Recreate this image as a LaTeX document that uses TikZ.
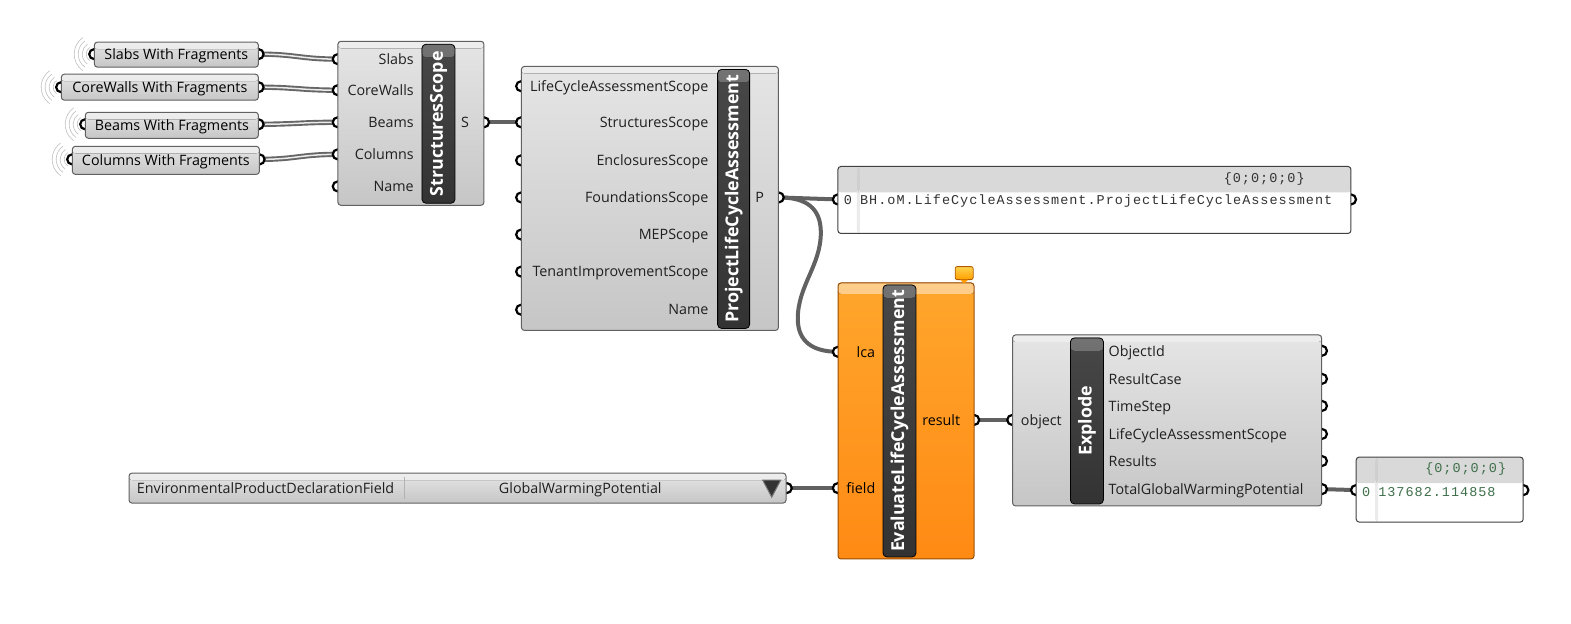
\documentclass[tikz,border=0pt]{standalone}
\usepackage{fontspec}
\setmainfont{Open Sans}
\newfontfamily\panelfont[LetterSpace=7.4]{Liberation Mono}
\usepackage{tikz}

\definecolor{compTop}{HTML}{E5E5E5}
\definecolor{compBot}{HTML}{C6C6C6}
\definecolor{orangeTop}{HTML}{FFA62C}
\definecolor{orangeBot}{HTML}{FF8A14}
\definecolor{valGreen}{HTML}{3F6F4A}

\tikzset{
  comp/.style={draw=black!62,line width=1pt,rounded corners=3pt,inner sep=0pt,
    top color=compTop,bottom color=compBot,
    path picture={\fill[top color=black!7,bottom color=compTop,draw=none]
      (path picture bounding box.north west) rectangle ([yshift=-7pt]path picture bounding box.north east);}},
  param/.style={comp,font=\fontsize{14.3}{14.3}\selectfont,text height=13pt,text depth=2.4pt},
  orangecomp/.style={draw=orange!60!black,line width=1pt,rounded corners=3pt,inner sep=0pt,
    top color=orangeTop,bottom color=orangeBot,
    path picture={\fill[top color=orangeTop!55!white,bottom color=orangeTop,draw=none]
      (path picture bounding box.north west) rectangle ([yshift=-11pt]path picture bounding box.north east);}},
  strip/.style={draw=black,line width=0.8pt,rounded corners=4pt,inner sep=0pt,
    top color=black!72,bottom color=black!80,text=white,
    font=\bfseries\fontsize{17.8}{17.8}\selectfont,
    path picture={\fill[top color=black!55,bottom color=black!72,draw=none]
      (path picture bounding box.north west) rectangle ([yshift=-13pt]path picture bounding box.north east);}},
  panel/.style={draw=black!75,line width=1pt,rounded corners=3pt,inner sep=0pt,fill=white,
    path picture={\fill[black!15] (path picture bounding box.north west) rectangle ([yshift=-26pt]path picture bounding box.north east);
      \fill[black!8] ([xshift=19pt]path picture bounding box.north west) rectangle ([xshift=22pt]path picture bounding box.south west);
      \fill[black!19] ([xshift=19pt]path picture bounding box.north west) rectangle ([xshift=22pt,yshift=-26pt]path picture bounding box.north west);}},
  grip/.style={circle,draw=black,line width=2.2pt,fill=white,minimum size=10pt,inner sep=0pt},
  wire/.style={draw=black!62,line width=4pt},
  dblwire/.style={draw=black!60,line width=1.9pt,double=black!8,double distance=1.5pt},
  lbl/.style={inner sep=0pt,font=\fontsize{14.3}{14.3}\selectfont,text=black!88,text height=13pt,text depth=2.4pt},
  mono/.style={inner sep=0pt,font=\panelfont\fontsize{13.5}{13.5}\selectfont,text=black!80,text height=9pt,text depth=0.4pt},
  ripple/.style={draw=black!25,line width=0.6pt}
}

\begin{document}
\begin{tikzpicture}[x=1.0022pt,y=-1.0022pt]
\useasboundingbox (0,0) rectangle (1567.5,622.6);

% grips
\coordinate (slabsOut) at (258,54);
\coordinate (coreOut) at (258,87);
\coordinate (beamsOut) at (258,124);
\coordinate (colsOut) at (259,159);
\coordinate (slabsIn) at (337,59);
\coordinate (coreIn) at (337,90);
\coordinate (beamsIn) at (337,122);
\coordinate (colsIn) at (337,154);
\coordinate (nameIn) at (337,186);
\coordinate (scopeOut) at (483,122);
\coordinate (lcaIn) at (520,86);
\coordinate (structIn) at (520,122);
\coordinate (enclIn) at (520,160);
\coordinate (foundIn) at (520,197);
\coordinate (mepIn) at (520,234);
\coordinate (tenantIn) at (520,271);
\coordinate (plcaNameIn) at (520,309);
\coordinate (plcaOut) at (777,197);
\coordinate (panelIn) at (836,199);
\coordinate (panelOut) at (1348,199);
\coordinate (evalLca) at (836,351);
\coordinate (evalField) at (836,487);
\coordinate (evalOut) at (972,419);
\coordinate (listOut) at (785,487);
\coordinate (explodeIn) at (1010,419);
\coordinate (idOut) at (1319,350);
\coordinate (caseOut) at (1319,378);
\coordinate (timeOut) at (1319,405);
\coordinate (scopeOutB) at (1319,433);
\coordinate (resOut) at (1319,460);
\coordinate (gwpOut) at (1319,488);
\coordinate (valIn) at (1353,489);
\coordinate (valOut) at (1520,489);

% ripples on the params
\foreach \cx/\cy in {94/54,61/87,85/124,72/159}
  \foreach \r in {8,12,16,20}
    \draw[ripple] (\cx,\cy) ++(125:\r) arc (125:235:\r);

% wires
\draw[dblwire] (slabsOut) .. controls (295,54) and (300,59) .. (slabsIn);
\draw[dblwire] (coreOut) .. controls (295,87) and (300,90) .. (coreIn);
\draw[dblwire] (beamsOut) .. controls (295,124) and (300,122) .. (beamsIn);
\draw[dblwire] (colsOut) .. controls (295,159) and (300,154) .. (colsIn);
\draw[wire] (scopeOut) -- (structIn);
\draw[wire] (plcaOut) -- (panelIn);
\draw[wire] (plcaOut) .. controls (805,197) and (819,208) .. (819,232)
  .. controls (819,265) and (796,285) .. (796,318)
  .. controls (796,340) and (810,351) .. (evalLca);
\draw[wire] (listOut) -- (evalField);
\draw[wire] (evalOut) -- (explodeIn);
\draw[wire] (gwpOut) -- (valIn);

\foreach \p in {slabsOut,coreOut,beamsOut,colsOut,slabsIn,coreIn,beamsIn,colsIn,nameIn,scopeOut,
  lcaIn,structIn,enclIn,foundIn,mepIn,tenantIn,plcaNameIn,plcaOut,panelIn,panelOut,evalLca,evalField,
  evalOut,listOut,explodeIn,idOut,caseOut,timeOut,scopeOutB,resOut,gwpOut,valIn,valOut}
  \node[grip] at (\p) {};
\foreach \cx/\cy in {94/54,61/87,85/124,72/159}
  \node[grip] at (\cx,\cy) {};

% params
\node[param,minimum width=164pt,minimum height=25pt] (slabs) at (176,54.5) {Slabs With Fragments};
\node[param,minimum width=197pt,minimum height=26pt] (core) at (159.5,87) {CoreWalls With Fragments};
\node[param,minimum width=173pt,minimum height=26pt] (beams) at (171.5,125) {Beams With Fragments};
\node[param,minimum width=187pt,minimum height=28pt] (cols) at (165.5,160) {Columns With Fragments};

% StructuresScope
\node[comp,minimum width=146pt,minimum height=164pt] (scope) at (410,123) {};
\node[strip,minimum width=33pt,minimum height=159pt] (scopeStrip) at (437.5,123.5) {\rotatebox{90}{StructuresScope}};
\foreach \t/\y in {Slabs/59,CoreWalls/90,Beams/122,Columns/154,Name/186}
  \node[lbl,anchor=east] (scope\t) at (413,\y) {\t};
\node[lbl] (scopeS) at (464,122) {S};

% ProjectLifeCycleAssessment
\node[comp,minimum width=257pt,minimum height=264pt] (plca) at (648.5,198) {};
\node[strip,minimum width=32pt,minimum height=259pt] (plcaStrip) at (732,198.5) {\rotatebox{90}{ProjectLifeCycleAssessment}};
\foreach \t/\y in {LifeCycleAssessmentScope/86,StructuresScope/122,EnclosuresScope/160,FoundationsScope/197,
  MEPScope/234,TenantImprovementScope/271,Name/309}
  \node[lbl,anchor=east] (plca\t) at (707,\y) {\t};
\node[lbl] (plcaP) at (758,197) {P};

% panel
\node[panel,minimum width=513pt,minimum height=67pt] (panel) at (1092,199.5) {};
\node[mono,anchor=east] (panelPath) at (1302,177.5) {\{0;0;0;0\}};
\node[mono] (panelIdx) at (846,200) {0};
\node[mono,anchor=west] (panelTxt) at (858,200) {BH.oM.LifeCycleAssessment.ProjectLifeCycleAssessment};

% EvaluateLifeCycleAssessment
\node[orangecomp,minimum width=136pt,minimum height=276pt] (eval) at (904,420) {};
\node[strip,minimum width=33pt,minimum height=272pt] (evalStrip) at (897.5,420) {\rotatebox{90}{EvaluateLifeCycleAssessment}};
\node[lbl,text=black] (evalLcaLbl) at (864,351) {lca};
\node[lbl,text=black] (evalFieldLbl) at (859,487) {field};
\node[lbl,text=black,anchor=west] (evalRes) at (920,419) {result};
% comment bubble
\node[draw=orange!70!black,line width=0.8pt,rounded corners=2pt,top color=yellow!50!orange!70,bottom color=orange!75!yellow,
  inner sep=0pt,minimum width=18pt,minimum height=13pt] (bubble) at (962,272.5) {};
\fill[orange!80!yellow] (958,279) -- (966,279) -- (962,283) -- cycle;

% value list
\node[param,minimum width=657pt,minimum height=30pt] (fieldList) at (456.5,487) {};
\draw[black!30] (403,476) -- (403,498);
\node[lbl] (fieldName) at (265,487) {EnvironmentalProductDeclarationField};
\node[lbl] (fieldValue) at (579,487) {GlobalWarmingPotential};
\draw[draw=black!55,line width=1pt,fill=black!80] (761,479) -- (779,479) -- (770,496) -- cycle;

% Explode
\node[comp,minimum width=309pt,minimum height=171pt] (explode) at (1164.5,419.5) {};
\node[strip,minimum width=33pt,minimum height=166pt] (explodeStrip) at (1084.5,420) {\rotatebox{90}{Explode}};
\node[lbl] (explodeObj) at (1039,419) {object};
\foreach \t/\y in {ObjectId/350,ResultCase/378,TimeStep/405,LifeCycleAssessmentScope/433,Results/460,TotalGlobalWarmingPotential/488}
  \node[lbl,anchor=west] (explode\t) at (1106,\y) {\t};

% value panel
\node[panel,minimum width=167pt,minimum height=65pt] (val) at (1436.5,488.5) {};
\node[mono,text=valGreen,anchor=east] (valPath) at (1503,467.3) {\{0;0;0;0\}};
\node[mono,text=valGreen] (valIdx) at (1363,491.5) {0};
\node[mono,text=valGreen,anchor=west] (valTxt) at (1375,491.5) {137682.114858};
\end{tikzpicture}
\end{document}
